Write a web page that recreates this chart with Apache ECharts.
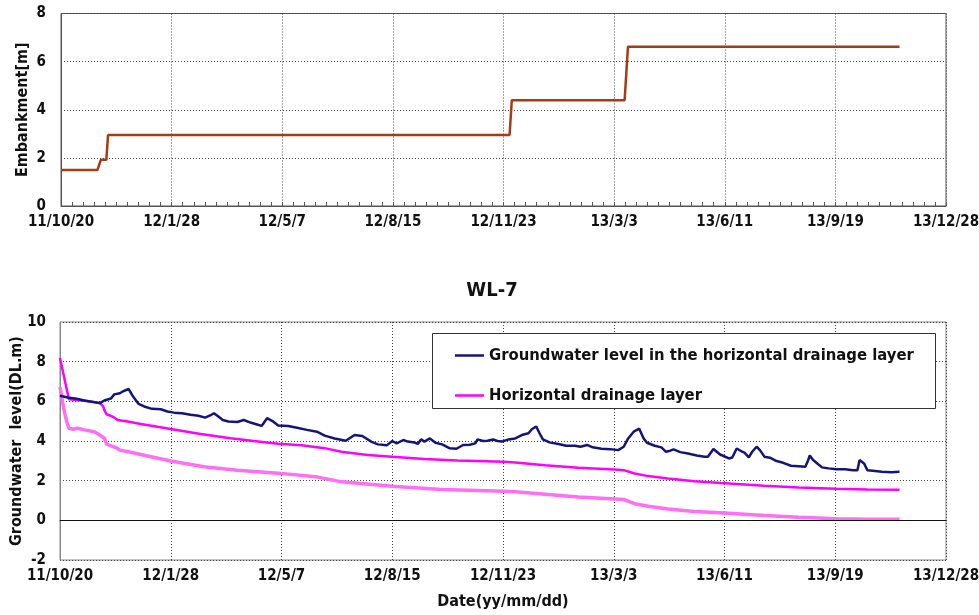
<!DOCTYPE html>
<html>
<head>
<meta charset="utf-8">
<script src="https://cdn.jsdelivr.net/npm/echarts@6/dist/echarts.min.js"></script>
<style>
html,body{margin:0;padding:0;background:#fff;}
#c{width:979px;height:615px;}
</style>
</head>
<body>
<div id="c"></div>
<script>
// x-axis tick labels (every 100 days starting 11/10/20)
var tickLabels = ['11/10/20','12/1/28','12/5/7','12/8/15','12/11/23','13/3/3','13/6/11','13/9/19','13/12/28'];

// Embankment height [m] (days since 2011-10-20)
var embDays   = [0, 33, 36, 41, 42.5, 405.5, 407.5, 509.5, 512.5, 758];
var embValues = [1.5, 1.5, 1.92, 1.92, 2.95, 2.95, 4.4, 4.4, 6.62, 6.62];

// Groundwater level in the horizontal drainage layer
var gwDays = [0,7,15,22,30,36,40,46,49,54,57,62,66,71,76,83,91,97,103,110,118,125,131,136,139,143,147,152,160,166,172,178,182,187,193,197,206,214,223,232,239,248,258,266,273,281,287,295,300,304,310,314,320,323,326,329,334,339,345,352,358,364,370,375,377,382,386,391,395,399,405,411,417,423,426,430,433,436,442,450,457,465,470,476,481,489,497,504,509,513,518,523,527,530,537,543,547,551,554,560,567,575,582,585,590,596,604,607,611,616,618,622,625,629,632,636,641,647,653,660,667,673,675,677,680,683,688,694,701,709,716,720,722,726,729,734,742,751,758];
var gwValues = [6.28,6.19,6.13,6.04,5.97,5.91,6.04,6.14,6.35,6.41,6.51,6.62,6.24,5.87,5.74,5.62,5.60,5.49,5.43,5.40,5.32,5.27,5.18,5.30,5.40,5.23,5.06,4.98,4.96,5.06,4.93,4.83,4.76,5.15,4.96,4.78,4.76,4.67,4.56,4.47,4.27,4.13,4.01,4.30,4.25,3.97,3.83,3.78,4.00,3.88,4.05,3.97,3.93,3.85,4.08,3.97,4.13,3.91,3.83,3.63,3.61,3.80,3.81,3.88,4.08,4.00,4.01,4.08,4.00,3.97,4.08,4.13,4.30,4.39,4.59,4.73,4.39,4.08,3.93,3.85,3.76,3.76,3.71,3.80,3.68,3.61,3.59,3.54,3.71,4.13,4.47,4.62,4.13,3.91,3.76,3.68,3.46,3.51,3.58,3.44,3.37,3.27,3.21,3.21,3.60,3.32,3.12,3.17,3.62,3.46,3.41,3.17,3.46,3.71,3.54,3.21,3.16,2.99,2.90,2.75,2.73,2.70,2.95,3.27,3.04,2.90,2.67,2.62,2.57,2.57,2.53,2.53,3.04,2.87,2.53,2.50,2.45,2.43,2.45];

// Horizontal drainage layer (upper magenta line)
var hdlDays   = [0,8,13,22,31,36,39,40,42,46,49,52,61,73,100,127,154,175,197,218,239,254,278,300,329,359,401,411,438,468,501,509,519,531,549,573,597,636,667,701,729,758];
var hdlValues = [8.19,6.11,6.08,6.03,5.96,5.91,5.74,5.57,5.35,5.27,5.18,5.06,4.98,4.86,4.61,4.35,4.14,4.00,3.86,3.78,3.64,3.46,3.29,3.21,3.09,3.02,2.96,2.92,2.78,2.65,2.56,2.53,2.36,2.23,2.11,1.97,1.88,1.74,1.66,1.59,1.56,1.54];

// Horizontal drainage layer (lower light-pink line)
var hdl2Days   = [0,3,6,8,12,16,22,31,36,40,42,46,51,54,64,79,100,130,160,197,233,254,300,345,401,411,438,468,501,509,519,531,549,573,600,636,667,701,729,758];
var hdl2Values = [6.72,5.74,4.98,4.64,4.59,4.64,4.56,4.47,4.30,4.14,3.85,3.75,3.66,3.54,3.43,3.24,2.99,2.70,2.53,2.38,2.18,1.94,1.72,1.55,1.47,1.44,1.32,1.18,1.08,1.05,0.84,0.71,0.57,0.45,0.37,0.24,0.15,0.08,0.05,0.05];

function zip(a, b) { return a.map(function (d, i) { return [d, b[i]]; }); }

var FONT = "'DejaVu Sans Condensed', 'Liberation Sans Narrow', sans-serif";
var gridLine = { show: true, lineStyle: { color: '#444', type: [1, 2], width: 1 } };

function xAxisCfg(idx, extra) {
  var o = {
    type: 'value', gridIndex: idx, min: 0, max: 800, interval: 100,
    axisLine: { show: true, lineStyle: { color: '#555', width: 1 } },
    axisTick: { show: false },
    axisLabel: {
      margin: 9, color: '#111', fontFamily: FONT, fontWeight: 'bold', fontSize: 15,
      showMaxLabel: true, showMinLabel: true, hideOverlap: false,
      formatter: function (v) { return tickLabels[Math.round(v / 100)]; }
    },
    splitLine: gridLine
  };
  for (var k in extra) o[k] = extra[k];
  return o;
}

var chart = echarts.init(document.getElementById('c'), null, { renderer: 'canvas' });
chart.setOption({
  animation: false,
  backgroundColor: '#fff',
  title: {
    text: 'WL-7', left: 492, top: 281, textAlign: 'center', padding: 0,
    textStyle: { fontFamily: FONT, fontWeight: 'bold', fontSize: 20, color: '#111' }
  },
  grid: [
    { left: 61, right: 33, top: 13.5, height: 192.5, show: true, borderColor: '#555', borderWidth: 1,
      backgroundColor: 'transparent', outerBoundsMode: 'none', containLabel: false },
    { left: 60, right: 33, top: 322, height: 238, show: true, borderColor: '#888', borderWidth: 1,
      backgroundColor: 'transparent', outerBoundsMode: 'none', containLabel: false }
  ],
  xAxis: [
    xAxisCfg(0, {
      axisTick: { show: true, inside: true, length: 4, lineStyle: { color: '#555' } },
      minorTick: { show: true, splitNumber: 10, length: 4, lineStyle: { color: '#555' } }
    }),
    xAxisCfg(1, {
      name: 'Date(yy/mm/dd)', nameLocation: 'middle', nameGap: 34, nameMoveOverlap: false,
      nameTextStyle: { fontFamily: FONT, fontWeight: 'bold', fontSize: 16, color: '#111' }
    })
  ],
  yAxis: [
    {
      type: 'value', gridIndex: 0, min: 0, max: 8, interval: 2,
      name: 'Embankment[m]', nameLocation: 'middle', nameGap: 30, nameRotate: 90, nameMoveOverlap: false,
      nameTextStyle: { fontFamily: FONT, fontWeight: 'bold', fontSize: 16, color: '#111' },
      axisLine: { show: true, lineStyle: { color: '#555' } },
      axisTick: { show: false },
      axisLabel: { margin: 15, color: '#111', fontFamily: FONT, fontWeight: 'bold', fontSize: 15 },
      splitLine: gridLine
    },
    {
      type: 'value', gridIndex: 1, min: -2, max: 10, interval: 2,
      name: 'Groundwater  level(DL.m)', nameLocation: 'middle', nameGap: 35, nameRotate: 90, nameMoveOverlap: false,
      nameTextStyle: { fontFamily: FONT, fontWeight: 'bold', fontSize: 16, color: '#111' },
      axisLine: { show: true, lineStyle: { color: '#888' } },
      axisTick: { show: false },
      axisLabel: { margin: 14, color: '#111', fontFamily: FONT, fontWeight: 'bold', fontSize: 15 },
      splitLine: gridLine
    }
  ],
  graphic: [{
    type: 'rect', left: 432, top: 333, z: 50,
    shape: { x: 0, y: 0, width: 503, height: 75 },
    style: { fill: '#fff', stroke: '#333', lineWidth: 1 }
  }],
  legend: {
    z: 60, orient: 'vertical', left: 455, top: 347, padding: 0,
    itemWidth: 29, itemHeight: 2.5, itemGap: 23, icon: 'rect',
    data: ['Groundwater level in the horizontal drainage layer', 'Horizontal drainage layer'],
    textStyle: { fontFamily: FONT, fontWeight: 'bold', fontSize: 16.5, color: '#111' }
  },
  series: [
    {
      name: 'Embankment', type: 'line', xAxisIndex: 0, yAxisIndex: 0,
      data: zip(embDays, embValues), symbol: 'none', showSymbol: false,
      lineStyle: { color: '#A53C13', width: 2.5 }, itemStyle: { color: '#A53C13' }
    },
    {
      name: 'Horizontal drainage layer (lower)', type: 'line', xAxisIndex: 1, yAxisIndex: 1,
      data: zip(hdl2Days, hdl2Values), symbol: 'none', showSymbol: false,
      lineStyle: { color: '#FF6EF4', width: 3.5 }, itemStyle: { color: '#FF6EF4' }
    },
    {
      name: 'Horizontal drainage layer', type: 'line', xAxisIndex: 1, yAxisIndex: 1,
      data: zip(hdlDays, hdlValues), symbol: 'none', showSymbol: false,
      lineStyle: { color: '#FF00FF', width: 2.5 }, itemStyle: { color: '#FF00FF' }
    },
    {
      name: 'Groundwater level in the horizontal drainage layer', type: 'line', xAxisIndex: 1, yAxisIndex: 1,
      data: zip(gwDays, gwValues), symbol: 'none', showSymbol: false,
      lineStyle: { color: '#14147A', width: 2.5 }, itemStyle: { color: '#14147A' },
      markLine: {
        silent: true, symbol: 'none', label: { show: false },
        lineStyle: { color: '#111', type: 'solid', width: 1 },
        data: [{ yAxis: 0 }]
      }
    }
  ]
});
</script>
</body>
</html>
